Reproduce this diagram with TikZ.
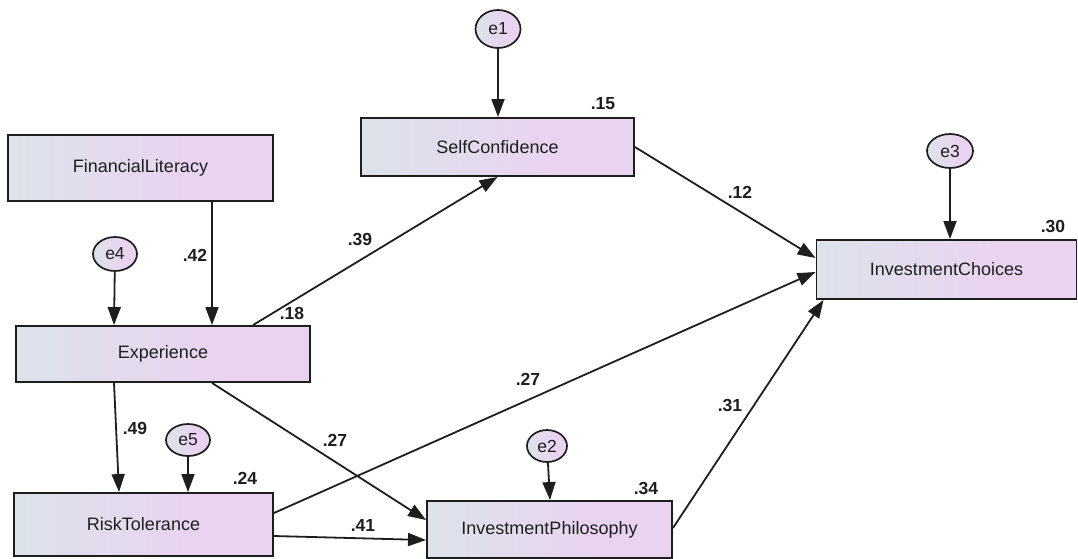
\documentclass[tikz,border=0pt]{standalone}
\usepackage{fontspec}
\setmainfont{Liberation Sans}
\usetikzlibrary{arrows.meta,shapes.geometric}
\definecolor{shA}{HTML}{DCE3EA}
\definecolor{shB}{HTML}{EAD3F1}
\definecolor{ink}{HTML}{1E1E1E}
\pgfdeclarehorizontalshading{boxshade}{100bp}{color(0bp)=(shA); color(25bp)=(shA); color(60bp)=(shB); color(100bp)=(shB)}
\tikzset{
  box/.style={rectangle, draw=ink, line width=1.9pt, shading=boxshade, inner sep=0pt,
    font=\fontsize{18}{20}\selectfont, text=ink},
  err/.style={ellipse, draw=ink, line width=1.7pt, shading=boxshade, inner sep=0pt,
    font=\fontsize{17.5}{20}\selectfont, text=ink},
  arr/.style={draw=ink, line width=1.8pt, -{Triangle[length=18pt,width=13pt]}},
  lab/.style={font=\bfseries\fontsize{17.5}{20}\selectfont, text=ink, inner sep=0pt}
}
\begin{document}
\begin{tikzpicture}[x=1pt,y=-1pt]
\useasboundingbox (0,0) rectangle (1078,558);
% boxes
\node[box, minimum width=265pt, minimum height=66pt] (FL) at (140.5,168) {FinancialLiteracy};
\node[box, minimum width=273pt, minimum height=58pt] (SC) at (497.5,147) {SelfConfidence};
\node[box, minimum width=260pt, minimum height=59pt] (IC) at (946.5,269.5) {InvestmentChoices};
\node[box, minimum width=294pt, minimum height=56pt] (EX) at (163,354) {Experience};
\node[box, minimum width=259pt, minimum height=63pt] (RT) at (143.5,524.5) {RiskTolerance};
\node[box, minimum width=245pt, minimum height=57pt] (IP) at (549.5,529.5) {InvestmentPhilosophy};
% error terms
\node[err, minimum width=45pt, minimum height=38pt] (e1) at (498,29) {e1};
\node[err, minimum width=46pt, minimum height=34pt] (e3) at (950,151) {e3};
\node[err, minimum width=44pt, minimum height=34pt] (e4) at (115,254) {e4};
\node[err, minimum width=44pt, minimum height=32pt] (e5) at (188,440) {e5};
\node[err, minimum width=40pt, minimum height=32pt] (e2) at (547,446) {e2};
% paths
\draw[arr] (e1) -- (e1 |- SC.north);
\draw[arr] (SC.east) -- ([yshift=11.5pt]IC.west);
\draw[arr] (e3) -- (e3 |- IC.north);
\draw[arr] ([xshift=71.5pt]FL.south) -- ([xshift=49pt]EX.north);
\draw[arr] (e4) -- ([xshift=-49pt]EX.north);
\draw[arr] ([xshift=90pt]EX.north) -- (SC.south);
\draw[arr] ([xshift=-49pt]EX.south) -- ([xshift=-24.5pt]RT.north);
\draw[arr] ([xshift=49pt]EX.south) -- ([yshift=9.5pt]IP.west);
\draw[arr] (e5) -- (e5 |- RT.north);
\draw[arr] ([yshift=11.5pt]RT.east) -- ([yshift=-2.5pt]IC.west);
\draw[arr] ([yshift=-11.5pt]RT.east) -- ([yshift=-10.5pt]IP.west);
\draw[arr] (e2) -- ([xshift=0.5pt]IP.north);
\draw[arr] ([yshift=1.5pt]IP.east) -- ([xshift=-123pt]IC.south);
% labels
\node[lab] (l15) at (603,104) {.15};
\node[lab] (l12) at (740,192) {.12};
\node[lab] (l30) at (1053,226) {.30};
\node[lab] (l42) at (195,255) {.42};
\node[lab] (l39) at (360,239) {.39};
\node[lab] (l18) at (292,313) {.18};
\node[lab] (l27a) at (528,379) {.27};
\node[lab] (l27b) at (335,440) {.27};
\node[lab] (l49) at (135,428) {.49};
\node[lab] (l24) at (245,478) {.24};
\node[lab] (l41) at (363,525) {.41};
\node[lab] (l31) at (730,405) {.31};
\node[lab] (l34) at (646,488) {.34};
\end{tikzpicture}
\end{document}
